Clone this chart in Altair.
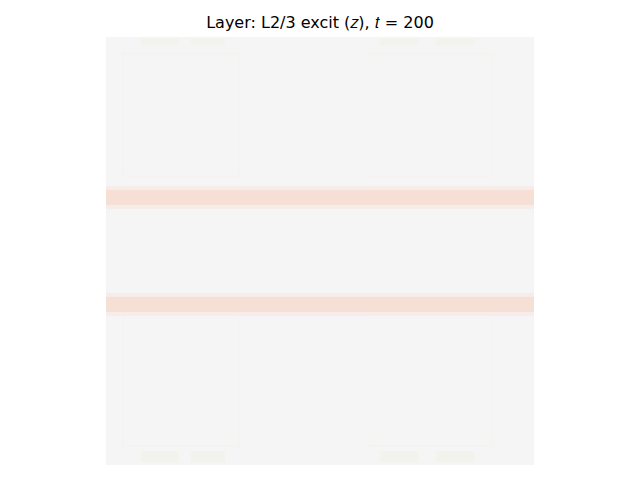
import altair as alt
import pandas as pd

# Grid is 100 x 100 cells (x: columns, y: rows from top)
# Horizontal bands (rows): start, end, activity
band_y0 = [34.8, 35.7, 39.3, 59.8, 60.7, 64.3]
band_y1 = [35.7, 39.3, 40.2, 60.7, 64.3, 65.2]
band_val = [0.35, 1.0, 0.35, 0.35, 1.0, 0.35]

# Faint rectangular outlines
box_x0 = [3.9, 3.9, 61.0, 61.0]
box_x1 = [31.3, 31.3, 90.4, 90.4]
box_y0 = [3.7, 65.4, 3.7, 65.4]
box_y1 = [32.7, 95.8, 32.7, 95.8]
box_val = [-0.25, -0.25, -0.25, -0.25]

# Faint yellowish patches at top and bottom edges
patch_x0 = [8.0, 19.8, 64.0, 77.0, 8.0, 19.8, 64.0, 77.0]
patch_x1 = [17.0, 27.8, 73.0, 86.0, 17.0, 27.8, 73.0, 86.0]
patch_y0 = [0.3, 0.3, 0.3, 0.3, 96.7, 96.7, 96.7, 96.7]
patch_y1 = [2.0, 2.0, 2.0, 2.0, 99.5, 99.5, 99.5, 99.5]
patch_val = [-0.3] * 8

rows = [dict(x=0, x2=100, y=0, y2=100, v=0.0)]
t = 0.35
for x0, x1, y0, y1, v in zip(box_x0, box_x1, box_y0, box_y1, box_val):
    rows += [
        dict(x=x0, x2=x1, y=y0, y2=y0 + t, v=v),
        dict(x=x0, x2=x1, y=y1 - t, y2=y1, v=v),
        dict(x=x0, x2=x0 + t, y=y0, y2=y1, v=v),
        dict(x=x1 - t, x2=x1, y=y0, y2=y1, v=v),
    ]
for x0, x1, y0, y1, v in zip(patch_x0, patch_x1, patch_y0, patch_y1, patch_val):
    rows.append(dict(x=x0, x2=x1, y=y0, y2=y1, v=v))
for y0, y1, v in zip(band_y0, band_y1, band_val):
    rows.append(dict(x=0, x2=100, y=y0, y2=y1, v=v))

df = pd.DataFrame(rows)

chart = alt.Chart(df).mark_rect(strokeWidth=0).encode(
    x=alt.X("x:Q", scale=alt.Scale(domain=[0, 100], nice=False, zero=False), axis=None),
    x2="x2:Q",
    y=alt.Y("y:Q", scale=alt.Scale(domain=[0, 100], nice=False, zero=False, reverse=True), axis=None),
    y2="y2:Q",
    color=alt.Color(
        "v:Q",
        scale=alt.Scale(domain=[-1, 0, 1], range=["#efeddf", "#f5f5f5", "#f6dfd5"]),
        legend=None,
    ),
).properties(
    width=428,
    height=428,
    padding={"left": 106, "top": 37, "right": 106, "bottom": 15},
    autosize="none",
    title=alt.TitleParams(
        text="Layer: L2/3 excit (𝑧), 𝑡 = 200",
        font="DejaVu Sans",
        fontSize=16,
        fontWeight="normal",
        color="black",
        anchor="middle",
        baseline="alphabetic",
        offset=-7,
    ),
).configure(background="white").configure_view(strokeWidth=0, stroke=None)

chart.save("out.html", embed_options={"renderer": "svg", "actions": False})
